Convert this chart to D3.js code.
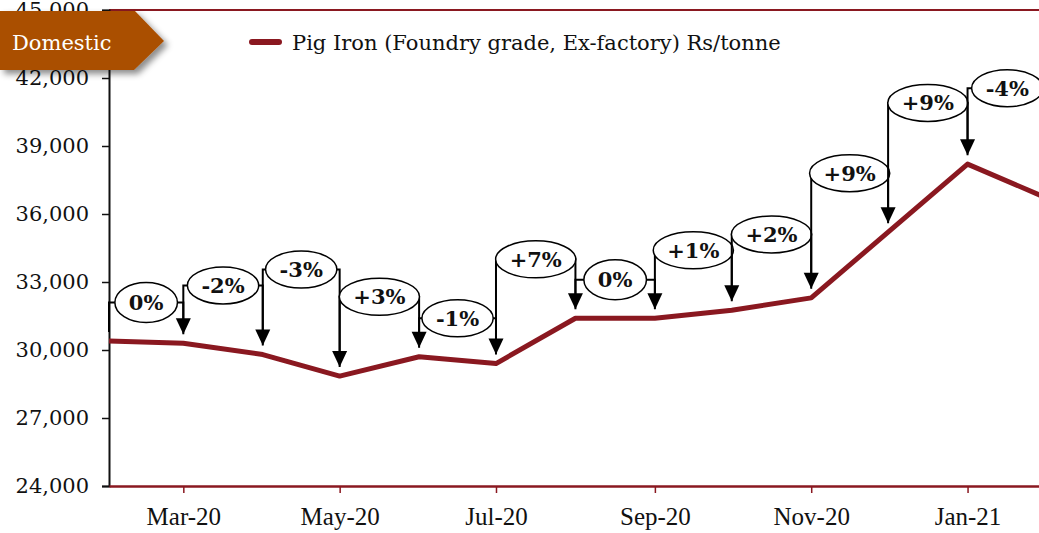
<!DOCTYPE html>
<html>
<head>
<meta charset="utf-8">
<script src="https://cdn.jsdelivr.net/npm/d3@7"></script>
<style>
  body { margin: 0; background: #fff; }
  svg { display: block; }
  .ytick text { font-family: "DejaVu Serif", serif; font-size: 21px; fill: #111; }
  .xtick text { font-family: "Liberation Serif", serif; font-size: 25px; fill: #111; }
  .pct { font-family: "DejaVu Serif", serif; font-size: 21px; font-weight: bold; fill: #111; }
</style>
</head>
<body>
<svg id="chart" width="1039" height="533"></svg>
<script>
var months = ["2020-02-01","2020-03-01","2020-04-01","2020-05-01","2020-06-01","2020-07-01",
              "2020-08-01","2020-09-01","2020-10-01","2020-11-01","2020-12-01","2021-01-01","2021-02-01"];
var prices = [30400, 30300, 29800, 28850, 29700, 29400, 31400, 31400, 31750, 32300, 35200, 38200, 36700];
var changes = ["0%","-2%","-3%","+3%","-1%","+7%","0%","+1%","+2%","+9%","+9%","-4%"];
// height (in Rs/tonne) where each change bubble sits
var calloutLevels = [32100, 32850, 33550, 32350, 31400, 34000, 33100, 34400, 35100, 37800, 40900, 41550];
var yTicks = [24000, 27000, 30000, 33000, 36000, 39000, 42000, 45000];
var xTickDates = ["2020-03-01","2020-05-01","2020-07-01","2020-09-01","2020-11-01","2021-01-01"];
var seriesName = "Pig Iron (Foundry grade, Ex-factory) Rs/tonne";

var lineColor = "#8a1820";
var parse = d3.timeParse("%Y-%m-%d");

var data = months.map(function(m, i) { return {date: parse(m), value: prices[i]}; });

var svg = d3.select("#chart");

var x = d3.scaleTime()
    .domain([parse("2020-02-01"), parse("2021-02-01")])
    .range([109, 1047]);
var y = d3.scaleLinear()
    .domain([24000, 45000])
    .range([486, 10]);

// frame top
svg.append("line")
    .attr("x1", 109).attr("x2", 1047)
    .attr("y1", y(45000)).attr("y2", y(45000))
    .attr("stroke", lineColor).attr("stroke-width", 2);

// y axis
var yAxis = svg.append("g")
    .attr("class", "ytick")
    .attr("transform", "translate(109,0)")
    .call(d3.axisLeft(y).tickValues(yTicks).tickSize(7).tickPadding(13).tickFormat(d3.format(",")));
yAxis.select(".domain").attr("stroke", "#111").attr("stroke-width", 2);
yAxis.selectAll(".tick line").attr("stroke", "#111").attr("stroke-width", 1.5);

// x axis
var xAxis = svg.append("g")
    .attr("class", "xtick")
    .attr("transform", "translate(0," + y(24000) + ")")
    .call(d3.axisBottom(x).tickValues(xTickDates.map(parse)).tickSizeInner(7).tickSizeOuter(0).tickPadding(14)
          .tickFormat(d3.timeFormat("%b-%y")));
xAxis.select(".domain").attr("stroke", lineColor).attr("stroke-width", 2.5);
xAxis.selectAll(".tick line").attr("stroke", lineColor).attr("stroke-width", 1.5);

// series line
svg.append("path")
    .datum(data)
    .attr("fill", "none")
    .attr("stroke", lineColor)
    .attr("stroke-width", 5)
    .attr("stroke-linejoin", "round")
    .attr("d", d3.line().x(function(d) { return x(d.date); }).y(function(d) { return y(d.value); }));

// change callouts
var tipGap = 9, headW = 15, headH = 16;
var callouts = svg.append("g");
changes.forEach(function(label, k) {
    var a = data[k], b = data[k + 1];
    var x0 = x(a.date), x1 = x(b.date);
    var ly = y(calloutLevels[k]);
    var tip0 = y(a.value) - tipGap, tip1 = y(b.value) - tipGap;
    var cx = (x0 + x1) / 2;

    callouts.append("path")
        .attr("d", "M" + x0 + "," + tip0 + "V" + ly + "H" + x1 + "V" + (tip1 - headH + 2))
        .attr("fill", "none").attr("stroke", "#000").attr("stroke-width", 2);
    callouts.append("path")
        .attr("d", "M" + (x1 - headW / 2) + "," + (tip1 - headH) + "L" + (x1 + headW / 2) + "," + (tip1 - headH) +
              "L" + x1 + "," + tip1 + "Z")
        .attr("fill", "#000");

    var t = callouts.append("text")
        .attr("class", "pct")
        .attr("x", cx).attr("y", ly)
        .attr("text-anchor", "middle")
        .attr("dy", "0.36em")
        .text(label);
    var w = t.node().getComputedTextLength();
    var rx = Math.max(27, w / 2 + 14);
    var ry = label === "0%" ? 20 : 18.5;
    callouts.insert("ellipse", function() { return t.node(); })
        .attr("cx", cx).attr("cy", ly)
        .attr("rx", rx).attr("ry", ry)
        .attr("fill", "#fff").attr("stroke", "#000").attr("stroke-width", 1.5);
});

// legend
svg.append("line")
    .attr("x1", 252).attr("x2", 279).attr("y1", 42).attr("y2", 42)
    .attr("stroke", lineColor).attr("stroke-width", 6).attr("stroke-linecap", "round");
svg.append("text")
    .attr("x", 292).attr("y", 50)
    .style("font-family", "'DejaVu Serif', serif").style("font-size", "21px").style("fill", "#111")
    .text(seriesName);

// Domestic tag
var defs = svg.append("defs");
var f = defs.append("filter").attr("id", "shadow").attr("x", "-10%").attr("y", "-20%").attr("width", "130%").attr("height", "160%");
f.append("feDropShadow").attr("dx", 4).attr("dy", 4).attr("stdDeviation", 3).attr("flood-color", "#000").attr("flood-opacity", 0.45);

svg.append("path")
    .attr("d", "M0,11H135L164,41L134,70H0Z")
    .attr("fill", "#aa5005")
    .attr("filter", "url(#shadow)");
svg.append("text")
    .attr("x", 12).attr("y", 50)
    .style("font-family", "'DejaVu Serif', serif").style("font-size", "21px").style("fill", "#fff")
    .text("Domestic");
</script>
</body>
</html>
